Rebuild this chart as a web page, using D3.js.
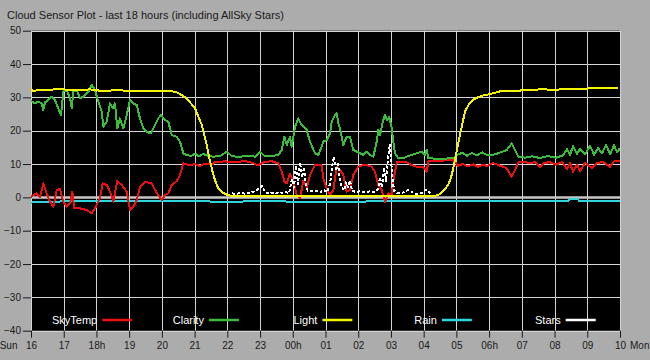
<!DOCTYPE html>
<html><head><meta charset="utf-8">
<script src="https://cdn.jsdelivr.net/npm/d3@7"></script>
<style>
html,body{margin:0;padding:0;background:#acacac;}
svg{display:block;font-family:"Liberation Sans",Arial,sans-serif;}
</style></head>
<body>
<svg id="c" width="650" height="360"></svg>
<script>
// ---- data (time = hours after Sun 16:00) ----
const title = "Cloud Sensor Plot - last 18 hours (including AllSky Stars)";
const xTickLabels = ["16","17","18h","19","20","21","22","23","00h","01","02","03","04","05","06h","07","08","09","10"];
const yTicks = [-40,-30,-20,-10,0,10,20,30,40,50];
const startDay = "Sun", endDay = "Mon";
const seriesNames = ["SkyTemp","Clarity","Light","Rain","Stars"];

const skyTempT = [0,0.174,0.275,0.376,0.48,0.581,0.682,0.785,0.886,0.987,1.091,1.192,1.262,1.323,1.498,1.702,1.855,1.956,2.109,2.191,2.314,2.414,2.515,2.638,2.772,2.925,3.026,3.127,3.23,3.331,3.484,3.689,3.79,3.891,3.995,4.095,4.196,4.3,4.453,4.554,4.655,4.859,5.012,5.165,5.318,5.523,5.623,5.929,6.235,6.54,6.754,6.938,7.152,7.366,7.558,7.662,7.741,7.815,7.916,8.017,8.12,8.221,8.322,8.426,8.527,8.68,8.884,8.933,9.037,9.138,9.239,9.343,9.444,9.545,9.649,9.749,9.85,10.003,10.156,10.26,10.412,10.513,10.614,10.718,10.819,10.92,11.024,11.073,11.177,11.482,11.635,11.788,11.99,12.093,12.142,12.5,12.897,13.05,13.203,13.356,13.509,13.661,13.814,13.936,14.12,14.273,14.425,14.538,14.691,14.792,14.893,15.098,15.251,15.403,15.556,15.679,15.862,16.045,16.229,16.381,16.473,16.565,16.687,16.779,16.932,17.145,17.298,17.482,17.696,17.818,18];
const skyTempV = [0.2,1.2,0,4.2,1.2,-1.3,-2.8,2.2,2.5,-1.3,-2.8,-1.8,1.7,-3.3,-3.3,-3.8,-4.8,-3.3,-0.2,4.2,3.7,1.7,-1.3,4.9,3.7,1.7,-3.8,-2.8,-0.8,3.2,4.7,4.2,2.2,0.7,-0.8,0.7,1.2,3.7,4.9,6.7,10.2,9.6,10.0,9.4,10.1,9.8,10.6,10.8,10.5,10.9,10.4,9.6,10.7,10.8,10.2,7.7,4.9,4.2,7,4.9,0.7,-0.3,4.9,3,6.7,9.7,9.7,5.7,2.7,0.7,2.2,9.2,8.2,6.7,1.7,2.2,6.7,9.2,9.7,9.7,9.2,7.7,3.7,2.2,-1.3,1.2,0.7,4.9,10.5,10.5,9.7,9.2,9.2,7.7,10.8,11.0,11.2,9.5,10.0,9.3,9.9,9.2,9.8,9.4,10.3,9.7,9.2,8.7,6.2,8.2,10.5,10.6,10.2,10.6,9.2,10.4,10.5,9.8,10.6,8.5,10.2,7.7,9.8,7.9,10.4,8.8,10.3,10.6,9.2,10.8,11.0];

const clarityT = [0,0.122,0.223,0.327,0.376,0.428,0.529,0.633,0.733,0.834,0.917,0.987,1.091,1.192,1.244,1.293,1.397,1.498,1.598,1.751,1.855,1.956,2.057,2.161,2.21,2.314,2.414,2.497,2.567,2.638,2.72,2.821,2.925,3.026,3.127,3.23,3.331,3.432,3.536,3.658,3.738,3.891,3.973,4.095,4.196,4.3,4.453,4.554,4.655,4.758,4.89,5.012,5.134,5.257,5.41,5.562,5.776,5.981,6.143,6.388,6.632,6.846,6.999,7.152,7.366,7.558,7.662,7.741,7.815,7.916,7.968,8.068,8.169,8.252,8.322,8.426,8.527,8.68,8.781,8.884,8.933,9.037,9.138,9.19,9.26,9.343,9.392,9.444,9.545,9.649,9.749,9.85,9.954,10.055,10.156,10.26,10.361,10.462,10.565,10.614,10.666,10.749,10.819,10.889,10.95,11.024,11.073,11.125,11.226,11.378,11.482,11.635,11.788,11.941,12.042,12.093,12.142,12.5,12.897,13.02,13.172,13.325,13.478,13.631,13.784,13.936,14.12,14.273,14.538,14.691,14.792,14.893,15.098,15.312,15.556,15.801,16.045,16.259,16.381,16.473,16.565,16.687,16.779,16.932,17.084,17.207,17.329,17.451,17.574,17.696,17.818,17.91,18];
const clarityV = [28.9,28.2,28.7,28.2,26.2,28.5,29.2,30.2,29.2,26.7,24.7,31.7,32.2,29.8,26.7,31.7,32.2,29.8,30.2,31.7,33.7,32.2,28.7,25.7,21.2,22.7,28.2,26.7,28.2,20.7,23.7,20.7,24.7,29.2,28.2,27.7,23.7,20.7,19.7,19.2,20.7,23.7,24.7,23.2,22.7,18.7,18.2,16.7,13.2,12.7,12.4,13.1,12.3,13.0,12.5,12.2,12.4,13.7,12.3,12.2,12.5,12.2,13.7,12.3,12.4,12.7,14.2,18.2,15.7,18.2,15.2,21.2,23.7,22.0,21.2,20.2,16.7,13.2,12.7,15.2,16.7,17.2,19.2,22.7,24.2,25.2,22.2,20.7,15.7,18.2,18.2,14.2,13.7,13.2,12.7,13.7,12.7,12.2,16.7,20.2,18.7,22.7,24.7,23.2,24.2,20.7,16.7,13.2,11.7,11.7,12.2,12.7,13.2,13.7,12.7,14.2,11.7,11.6,11.7,12.7,13.4,12.5,13.3,12.6,13.5,12.7,12.8,13.2,14.2,16.2,14.2,12.2,11.9,12.3,11.8,12.4,11.9,12.6,14.5,12.8,15.3,13.0,14.6,12.9,15.5,12.8,14.8,13.2,15.8,12.9,15.6,13.5,14.8];

const lightT = [0,0.061,0.428,0.886,1.345,1.803,2.109,2.72,3.331,4.095,4.401,4.554,4.707,4.859,5.012,5.104,5.217,5.287,5.37,5.471,5.572,5.654,5.715,5.837,5.929,6.134,6.999,8.221,9.749,11.278,12.194,12.408,12.5,12.622,12.754,12.836,12.907,13.01,13.111,13.203,13.264,13.386,13.518,13.661,13.823,14.028,14.334,14.639,15.046,15.556,16.045,16.565,17.39,17.94];
const lightV = [32.6,32.0,32.2,32.5,32.1,32.4,32.0,32.1,31.8,32.0,31.7,31.0,30.0,28.5,26.8,24.5,21.8,19,15.8,10.8,6.8,4.3,2.9,1.6,1.0,0.4,0.3,0.3,0.3,0.3,0.3,0.6,1.0,2.2,3.8,6,8.8,13.8,18.8,23,25.8,28,29.3,30.0,30.6,31.0,31.8,31.9,32.1,32.4,32.3,32.6,32.7,32.7];

const rainT = [0,0.092,1.498,3.637,4.095,4.554,5.837,6.999,8.833,11.278,13.111,16.412,16.443,16.718,16.748,18];
const rainV = [-1.7,-1.3,-1.2,-1.1,-1.0,-1.1,-1.3,-1.2,-1.3,-1.2,-1.1,-1.1,-0.6,-0.6,-1.1,-1.1];

const starsT = [6.143,6.265,6.388,6.54,6.693,6.846,6.968,7.06,7.152,7.304,7.457,7.61,7.763,7.885,7.977,8.038,8.099,8.16,8.221,8.282,8.343,8.405,8.466,8.588,8.71,8.833,8.955,9.046,9.138,9.199,9.26,9.321,9.383,9.444,9.505,9.566,9.627,9.688,9.749,9.811,9.933,10.055,10.208,10.361,10.483,10.605,10.666,10.727,10.788,10.849,10.911,10.972,11.033,11.094,11.216,11.4,11.522,11.644,11.767,11.95,12.072,12.164,12.255];
const starsV = [1.2,1.0,1.3,1.1,1.5,1.8,2.6,3.4,1.5,1.2,1.4,1.2,1.6,1.3,5.5,3,9.5,4,10.5,6,9,3,2.0,1.8,2.0,1.5,2.2,1.6,4,9,12.2,8,10,5,3,2,4.5,3,5,2,1.6,1.8,1.5,1.8,1.6,2.5,6,3,9,5,12,16,7,2,1.2,1.5,2.2,1.6,1.0,1.3,2.3,1.5,1.0];

const colors = {SkyTemp:"#ec1010", Clarity:"#3cbc3c", Light:"#f4f400", Rain:"#30d4dc", Stars:"#ffffff"};

// ---- layout ----
const svg = d3.select("#c");
const L = 31, R = 620, T = 30.7, B = 330.7;
const x = d3.scaleLinear().domain([0, 18]).range([L, R]);
const y = d3.scaleLinear().domain([-40, 50]).range([B, T]);

svg.append("rect").attr("width",650).attr("height",360).attr("fill","#acacac");
svg.append("text").attr("x",7).attr("y",19).attr("font-size",11).attr("fill","#1a1a1a").text(title);

svg.append("rect").attr("x",L).attr("y",T).attr("width",R-L).attr("height",B-T).attr("fill","#000");

// grid
const g = svg.append("g");
g.selectAll(".vg").data(d3.range(xTickLabels.length)).join("line")
  .attr("x1",d=>Math.round(x(d))+0.5).attr("x2",d=>Math.round(x(d))+0.5)
  .attr("y1",T).attr("y2",B).attr("stroke","#d4d4d4").attr("stroke-width",1);
g.selectAll(".hg").data(yTicks).join("line")
  .attr("x1",L).attr("x2",R)
  .attr("y1",d=>Math.round(y(d))+0.5).attr("y2",d=>Math.round(y(d))+0.5)
  .attr("stroke",d=>d===0?"#c8c8c8":"#d4d4d4").attr("stroke-width",d=>d===0?2.5:1);

// axes
const xa = svg.append("g").attr("transform",`translate(0,${B})`)
  .call(d3.axisBottom(x).tickValues(d3.range(xTickLabels.length)).tickFormat(i=>xTickLabels[i]).tickSize(7).tickPadding(4));
const ya = svg.append("g").attr("transform",`translate(${L},0)`)
  .call(d3.axisLeft(y).tickValues(yTicks).tickFormat(d3.format("d")).tickSize(8).tickPadding(2));
[xa,ya].forEach(a=>{
  a.select(".domain").remove();
  a.selectAll("line").attr("stroke","#1a1a1a");
  a.selectAll("text").attr("fill","#1a1a1a").attr("font-size",10).attr("font-family","Liberation Sans, Arial, sans-serif");
});
svg.append("text").attr("x",x(0)-13.5).attr("y",B+18).attr("text-anchor","end").attr("font-size",10).attr("fill","#1a1a1a").text(startDay);
svg.append("text").attr("x",x(18)+10).attr("y",B+18).attr("text-anchor","start").attr("font-size",10).attr("fill","#1a1a1a").text(endDay);

// series
svg.append("defs").append("clipPath").attr("id","pc").append("rect")
  .attr("x",L).attr("y",T).attr("width",R-L).attr("height",B-T);
const line = d3.line().x(d=>x(d[0])).y(d=>y(d[1]));
const plot = svg.append("g").attr("clip-path","url(#pc)");
function draw(ts, vs, name, dash){
  plot.append("path").datum(ts.map((t,i)=>[t,vs[i]]))
    .attr("d",line).attr("fill","none").attr("stroke",colors[name])
    .attr("stroke-width",2).attr("stroke-linejoin","round")
    .attr("shape-rendering","crispEdges")
    .attr("stroke-dasharray",dash||null);
}
draw(rainT, rainV, "Rain");
draw(skyTempT, skyTempV, "SkyTemp");
draw(clarityT, clarityV, "Clarity");
draw(starsT, starsV, "Stars", "3,2");
draw(lightT, lightV, "Light");

// legend
const legX = d3.scalePoint().domain(seriesNames).range([52, 535]);
const leg = svg.append("g");
seriesNames.forEach(n=>{
  const t = leg.append("text").attr("x",legX(n)).attr("y",323.5).attr("font-size",11).attr("fill","#fff").text(n);
  const w = t.node().getComputedTextLength();
  leg.append("line").attr("x1",legX(n)+w+5).attr("x2",legX(n)+w+35)
    .attr("y1",320).attr("y2",320).attr("stroke",colors[n]).attr("stroke-width",2.5);
});
</script>
</body></html>
